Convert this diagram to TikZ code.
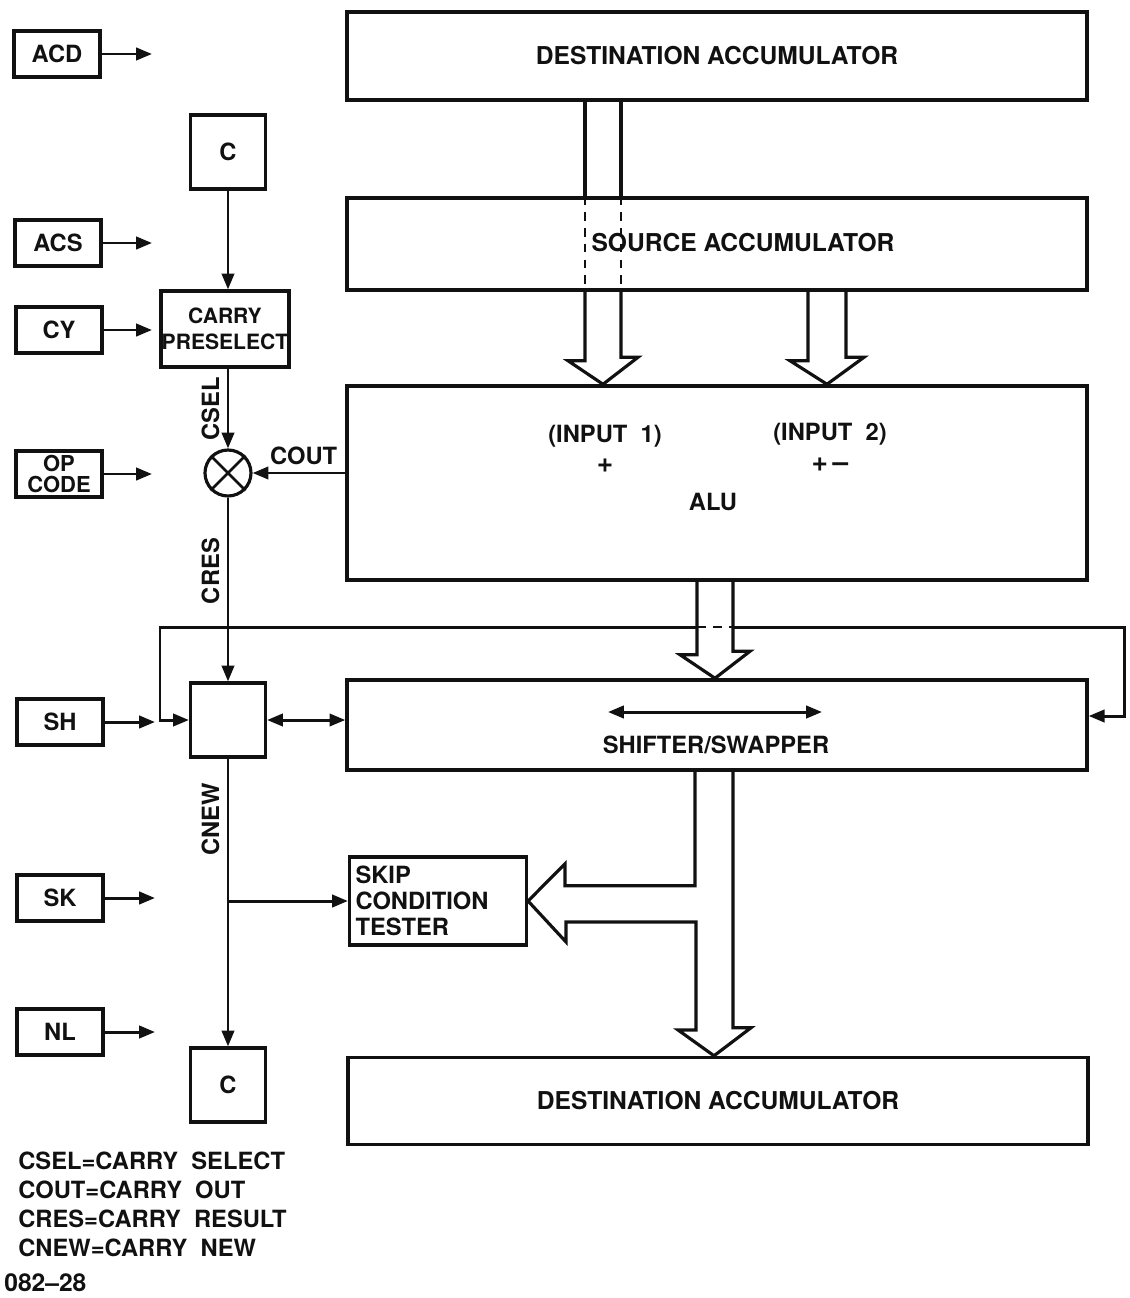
\documentclass[tikz,border=0pt]{standalone}
\usepackage{fontspec}
\setmainfont{TeX Gyre Heros}
\usepackage{tikz}
\usetikzlibrary{arrows.meta,calc}
\definecolor{ink}{HTML}{111111}
\newcommand\regfont{\bfseries\fontsize{14}{16}\selectfont}
\newcommand\lblfont{\bfseries\fontsize{13.5}{15}\selectfont}
\tikzset{
  regbox/.style={draw=ink, text=ink, line width=2pt, minimum width=14.8cm, inner sep=0pt, font=\regfont},
  sigbox/.style={draw=ink, text=ink, line width=1.8pt, minimum width=1.72cm, minimum height=0.92cm, inner sep=1pt, align=center, font=\lblfont},
  carrybox/.style={draw=ink, text=ink, line width=1.8pt, minimum width=1.5cm, minimum height=1.48cm, inner sep=0pt, font=\lblfont},
  lbl/.style={text=ink, inner sep=1pt, font=\lblfont},
  vlbl/.style={lbl, rotate=90, anchor=south, inner sep=4pt},
  arrow/.style={-{Triangle[length=9pt,width=7pt]}, line width=1.7pt, draw=ink},
  backarrow/.style={{Triangle[length=9pt,width=7pt]}-, line width=1.7pt, draw=ink},
  dblarrow/.style={{Triangle[length=9pt,width=7pt]}-{Triangle[length=9pt,width=7pt]}, line width=1.7pt, draw=ink},
  bus/.style={line width=1.8pt, draw=ink, line join=miter},
  busgap/.style={line width=1.6pt, draw=ink, dash pattern=on 5pt off 4pt}
}

\begin{document}
\begin{tikzpicture}[x=0.02cm, y=-0.02cm]
  \useasboundingbox (0,0) rectangle (1129,1298);

  % registers and ALU
  \node[regbox, minimum height=1.76cm] (dstA) at (717,56) {DESTINATION ACCUMULATOR};
  \node[regbox, minimum height=1.84cm] (srcA) at (717,244) {};
  \node[lbl, font=\regfont] (srclbl) at (743,243) {SOURCE ACCUMULATOR};
  \node[regbox, minimum height=3.88cm] (alu) at (717,483) {};
  \node[lbl] (in1) at (605,436) {(INPUT\ \ 1)};
  \node[lbl, font={\bfseries\fontsize{16}{16}\selectfont}] (pl1) at (605,466) {+};
  \node[lbl] (in2) at (830,434) {(INPUT\ \ 2)};
  \node[lbl, font={\bfseries\fontsize{16}{16}\selectfont}] (pl2) at (830,465) {+\,--};
  \node[lbl] (alulbl) at (713,502) {ALU};
  \node[regbox, minimum height=1.8cm] (shft) at (717,725) {};
  \node[lbl] (shlbl) at (716,745) {SHIFTER/SWAPPER};
  \node[regbox, minimum height=1.74cm] (dstB) at (718,1101) {DESTINATION ACCUMULATOR};

  % control inputs
  \node[sigbox] (acd) at (57,54) {ACD};
  \node[sigbox] (acs) at (58,243) {ACS};
  \node[sigbox] (cy) at (59,330) {CY};
  \node[sigbox, inner sep=0pt, font={\bfseries\fontsize{12.5}{11.5}\selectfont}] (opc) at (59,474) {OP\\CODE};
  \node[sigbox] (sh) at (60,722) {SH};
  \node[sigbox] (sk) at (60,898) {SK};
  \node[sigbox] (nl) at (60,1032) {NL};
  \coordinate (acdE) at (152,54);
  \coordinate (acsE) at (152,243);
  \coordinate (cyE) at (152,330);
  \coordinate (opcE) at (152,474);
  \coordinate (shE) at (155,722);
  \coordinate (skE) at (155,898);
  \coordinate (nlE) at (155,1032);
  \draw[arrow] (acd) -- (acdE);
  \draw[arrow] (acs) -- (acsE);
  \draw[arrow] (cy) -- (cyE);
  \draw[arrow] (opc) -- (opcE);
  \draw[arrow] (sh) -- (shE);
  \draw[arrow] (sk) -- (skE);
  \draw[arrow] (nl) -- (nlE);

  % carry path
  \node[carrybox] (ctop) at (228,152) {C};
  \node[draw=ink, text=ink, line width=1.8pt, minimum width=2.56cm, minimum height=1.52cm, inner sep=0pt, align=center,
        font={\bfseries\fontsize{12}{14.5}\selectfont}] (presel) at (225,329) {CARRY\\PRESELECT};
  \node[circle, draw=ink, line width=1.8pt, minimum size=0.92cm, inner sep=0pt] (xr) at (228,473) {};
  \draw[ink, line width=1.6pt] (xr.north west) -- (xr.south east) (xr.north east) -- (xr.south west);
  \node[carrybox] (cmid) at (228,720) {};
  \node[carrybox] (cbot) at (228,1085) {C};
  \node[draw=ink, text=ink, line width=1.8pt, text width=3.3cm, inner xsep=0.12cm, minimum height=1.76cm, align=left,
        font={\bfseries\fontsize{13.5}{14.8}\selectfont}] (skip) at (438,901) {SKIP\\CONDITION\\TESTER};

  \draw[arrow] (ctop.south) -- (ctop.south |- presel.north);
  \draw[arrow] (presel.south -| xr.north) -- node[vlbl] {CSEL} (xr.north);
  \draw[arrow] (alu.west |- xr.east) -- node[lbl, above=3pt, pos=0.45] {COUT} (xr.east);
  \draw[arrow] (xr.south) -- node[vlbl, pos=0.4] {CRES} (cmid.north);
  \draw[arrow] (cmid.south) -- node[vlbl, pos=0.21] {CNEW} (cbot.north);
  \coordinate (br) at (cmid.south |- skip.west);
  \draw[arrow] (br) -- (skip.west);
  \draw[dblarrow] (cmid.east) -- (cmid.east -| shft.west);
  \coordinate (swl) at (608,712);
  \coordinate (swr) at (822,712);
  \draw[dblarrow] (swl) -- (swr);

  % buses
  \coordinate (b1l) at (585,0); \coordinate (b1) at (603,0); \coordinate (b1r) at (621,0);
  \coordinate (b2l) at (808,0); \coordinate (b2) at (827,0); \coordinate (b2r) at (846,0);
  \coordinate (b3l) at (697,0); \coordinate (b3) at (715,0); \coordinate (b3r) at (733,0);
  \coordinate (b4l) at (695,0); \coordinate (b4) at (714,0); \coordinate (b4r) at (733,0);
  \draw[bus] (b1l |- dstA.south) -- (b1l |- srcA.north) (b1r |- srcA.north) -- (b1r |- dstA.south);
  \draw[busgap] (b1l |- srcA.north) -- (b1l |- srcA.south) (b1r |- srcA.north) -- (b1r |- srcA.south);
  \draw[bus] (b1l |- srcA.south) -- ++(0,69) -- ++(-17,0) -- (b1 |- alu.north) -- ++(35,-27) -- ++(-17,0) -- (b1r |- srcA.south);
  \draw[bus] (b2l |- srcA.south) -- ++(0,69) -- ++(-18,0) -- (b2 |- alu.north) -- ++(37,-27) -- ++(-18,0) -- (b2r |- srcA.south);
  \draw[bus] (b3l |- alu.south) -- ++(0,73) -- ++(-17,0) -- (b3 |- shft.north) -- ++(35,-27) -- ++(-17,0) -- (b3r |- alu.south);
  \draw[bus] (b4l |- shft.south) -- ++(0,114) -- ++(-130,0) -- ++(0,-22) -- (skip.east) -- ++(38,41) -- ++(0,-20)
    -- ++(130,0) -- ++(0,108) -- ++(-18,0) -- (b4 |- dstB.north) -- ++(37,-28) -- ++(-18,0) -- (b4r |- shft.south);

  % shift loop
  \coordinate (lp) at (160,627);
  \coordinate (rp) at (1124,627);
  \draw[backarrow] (cmid.west) -| (lp) -- (b3l |- lp);
  \draw[busgap] (b3l |- lp) -- (b3r |- lp);
  \draw[arrow] (b3r |- lp) -- (rp) |- ($(shft.east)+(0,-9)$);

  % legend
  \node[lbl, inner sep=0pt, anchor=north west, align=left, font={\bfseries\fontsize{13.5}{16.5}\selectfont}] (legend) at (18,1152)
    {CSEL=CARRY\ \ SELECT\\COUT=CARRY\ \ OUT\\CRES=CARRY\ \ RESULT\\CNEW=CARRY\ \ NEW};
  \node[lbl, inner sep=0pt, anchor=west, font={\bfseries\fontsize{14}{16}\selectfont}] (figno) at (4,1283) {082--28};
\end{tikzpicture}
\end{document}
